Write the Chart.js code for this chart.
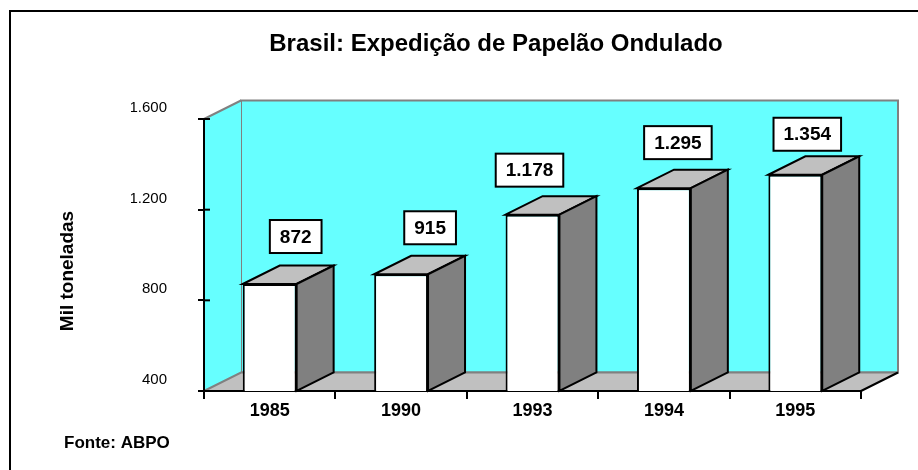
<!DOCTYPE html>
<html lang="pt-BR">
<head>
<meta charset="utf-8">
<title>Brasil: Expedição de Papelão Ondulado</title>
<script src="https://cdn.jsdelivr.net/npm/chart.js@4.4.1/dist/chart.umd.min.js"></script>
<style>
    html, body { margin: 0; padding: 0; background: #fff; }
    canvas { display: block; }
</style>
</head>
<body>
<canvas id="chart" width="918" height="470"></canvas>
<script>
// dados do gráfico
const years = ['1985', '1990', '1993', '1994', '1995'];
const shipments = [872, 915, 1178, 1295, 1354];   // mil toneladas
const yTickValues = [400, 800, 1200, 1600];

const FONT = '"Liberation Sans", Arial, Helvetica, sans-serif';
const DEPTH_X = 37;      // profundidade do efeito 3D
const DEPTH_Y = -18.5;
const WALL = '#66ffff';
const EDGE = '#808080';

// 1.600 em vez de 1600
function fmt(v) {
    return String(v).replace(/\B(?=(\d{3})+(?!\d))/g, '.');
}

// paredes, piso e moldura (antes das barras)
const walls3d = {
    id: 'walls3d',
    beforeDraw(chart) {
        const { ctx, chartArea: a } = chart;
        ctx.save();

        // moldura
        ctx.strokeStyle = '#000';
        ctx.lineWidth = 2;
        ctx.beginPath();
        ctx.moveTo(10, chart.height);
        ctx.lineTo(10, 11);
        ctx.lineTo(chart.width, 11);
        ctx.stroke();

        const bx0 = a.left + DEPTH_X, bx1 = a.right + DEPTH_X;
        const by0 = a.top + DEPTH_Y, by1 = a.bottom + DEPTH_Y;

        // parede de fundo
        ctx.fillStyle = WALL;
        ctx.fillRect(bx0, by0, bx1 - bx0, by1 - by0);
        ctx.strokeStyle = EDGE;
        ctx.strokeRect(bx0, by0, bx1 - bx0, by1 - by0);

        // parede lateral
        ctx.beginPath();
        ctx.moveTo(a.left, a.top);
        ctx.lineTo(bx0, by0);
        ctx.lineTo(bx0, by1);
        ctx.lineTo(a.left, a.bottom);
        ctx.closePath();
        ctx.fill();
        ctx.beginPath();
        ctx.moveTo(a.left, a.top);
        ctx.lineTo(bx0, by0);
        ctx.stroke();

        // piso
        ctx.fillStyle = '#c0c0c0';
        ctx.beginPath();
        ctx.moveTo(a.left, a.bottom);
        ctx.lineTo(bx0, by1);
        ctx.lineTo(bx1, by1);
        ctx.lineTo(a.right, a.bottom);
        ctx.closePath();
        ctx.fill();
        ctx.strokeStyle = EDGE;
        ctx.beginPath();
        ctx.moveTo(a.left, a.bottom);
        ctx.lineTo(bx0, by1);
        ctx.lineTo(bx1, by1);
        ctx.stroke();
        ctx.strokeStyle = '#000';
        ctx.beginPath();
        ctx.moveTo(bx1, by1);
        ctx.lineTo(a.right, a.bottom);
        ctx.stroke();

        ctx.restore();
    },
    afterDraw(chart) {
        const { ctx, chartArea: a } = chart;
        const yScale = chart.scales.y;
        ctx.save();

        // parte interna das marcas do eixo Y
        ctx.strokeStyle = '#000';
        ctx.lineWidth = 2;
        yScale.ticks.forEach((t, i) => {
            const py = yScale.getPixelForTick(i);
            ctx.beginPath();
            ctx.moveTo(a.left, py);
            ctx.lineTo(a.left + 6, py);
            ctx.stroke();
        });

        // título do eixo Y
        ctx.fillStyle = '#000';
        ctx.font = 'bold 19px ' + FONT;
        ctx.textAlign = 'center';
        ctx.textBaseline = 'middle';
        ctx.translate(68, 271);
        ctx.rotate(-Math.PI / 2);
        ctx.fillText('Mil toneladas', 0, 0);
        ctx.setTransform(1, 0, 0, 1, 0, 0);

        // fonte
        ctx.font = 'bold 17px ' + FONT;
        ctx.textAlign = 'left';
        ctx.textBaseline = 'alphabetic';
        ctx.fillText('Fonte: ABPO', 64, 448);

        ctx.restore();
    }
};

// faces superior e lateral das barras + rótulos de valor
const bars3d = {
    id: 'bars3d',
    afterDatasetsDraw(chart, args, opts) {
        const { ctx } = chart;
        const meta = chart.getDatasetMeta(0);
        const floor = chart.scales.y.getPixelForValue(chart.scales.y.min);
        ctx.save();
        ctx.lineWidth = 2;
        ctx.strokeStyle = '#000';
        ctx.lineJoin = 'miter';

        meta.data.forEach((bar) => {
            const l = bar.x - bar.width / 2;
            const r = bar.x + bar.width / 2;
            const top = bar.y;
            const base = Math.min(bar.base, floor);

            // topo
            ctx.fillStyle = '#c0c0c0';
            ctx.beginPath();
            ctx.moveTo(l, top);
            ctx.lineTo(l + DEPTH_X, top + DEPTH_Y);
            ctx.lineTo(r + DEPTH_X, top + DEPTH_Y);
            ctx.lineTo(r, top);
            ctx.closePath();
            ctx.fill();
            ctx.stroke();

            // lateral
            ctx.fillStyle = '#808080';
            ctx.beginPath();
            ctx.moveTo(r, top);
            ctx.lineTo(r + DEPTH_X, top + DEPTH_Y);
            ctx.lineTo(r + DEPTH_X, base + DEPTH_Y);
            ctx.lineTo(r, base);
            ctx.closePath();
            ctx.fill();
            ctx.stroke();
        });

        // rótulos
        ctx.font = 'bold 19px ' + FONT;
        ctx.textAlign = 'center';
        ctx.textBaseline = 'middle';
        meta.data.forEach((bar, i) => {
            const text = fmt(shipments[i]);
            const w = ctx.measureText(text).width + 20;
            const h = 33;
            const cx = bar.x + opts.shiftX[i];
            const bottom = bar.y + opts.shiftY[i];
            ctx.fillStyle = '#fff';
            ctx.fillRect(cx - w / 2, bottom - h, w, h);
            ctx.strokeRect(cx - w / 2, bottom - h, w, h);
            ctx.fillStyle = '#000';
            ctx.fillText(text, cx, bottom - h / 2 + 1);
        });

        ctx.restore();
    }
};

Chart.defaults.font.family = FONT;
Chart.defaults.color = '#000';

new Chart(document.getElementById('chart'), {
    type: 'bar',
    data: {
        labels: years,
        datasets: [{
            data: shipments,
            backgroundColor: '#ffffff',
            borderColor: '#000000',
            borderWidth: 2,
            borderSkipped: false,
            barPercentage: 0.41,
            categoryPercentage: 1
        }]
    },
    options: {
        responsive: false,
        animation: false,
        layout: {
            padding: { left: 131, right: 57, top: 0, bottom: 0 }
        },
        plugins: {
            legend: { display: false },
            tooltip: { enabled: false },
            title: {
                display: true,
                text: 'Brasil: Expedição de Papelão Ondulado',
                color: '#000',
                font: { size: 24, weight: 'bold', family: FONT },
                padding: { top: 30, bottom: 60.2 }
            },
            bars3d: {
                shiftX: [26, 29, -3, 14, 12],
                shiftY: [-31, -30, -28, -29, -24]
            }
        },
        scales: {
            x: {
                afterFit(scale) { scale.height = 79; },
                grid: {
                    display: true,
                    drawOnChartArea: false,
                    drawTicks: true,
                    tickLength: 8,
                    color: '#000',
                    lineWidth: 2,
                    offset: true
                },
                border: { display: true, color: '#000', width: 2 },
                ticks: {
                    color: '#000',
                    padding: 1,
                    font: { size: 18, weight: 'bold', family: FONT }
                }
            },
            y: {
                min: 400,
                max: 1600,
                afterFit(scale) { scale.width = 73; },
                afterBuildTicks(scale) {
                    scale.ticks = yTickValues.map(v => ({ value: v }));
                },
                grid: {
                    display: true,
                    drawOnChartArea: false,
                    drawTicks: true,
                    tickLength: 6,
                    color: '#000',
                    lineWidth: 2
                },
                border: { display: true, color: '#000', width: 2 },
                ticks: {
                    color: '#000',
                    padding: 31,
                    labelOffset: -11,
                    font: { size: 15, family: FONT },
                    callback: v => fmt(v)
                }
            }
        }
    },
    plugins: [walls3d, bars3d]
});
</script>
</body>
</html>
